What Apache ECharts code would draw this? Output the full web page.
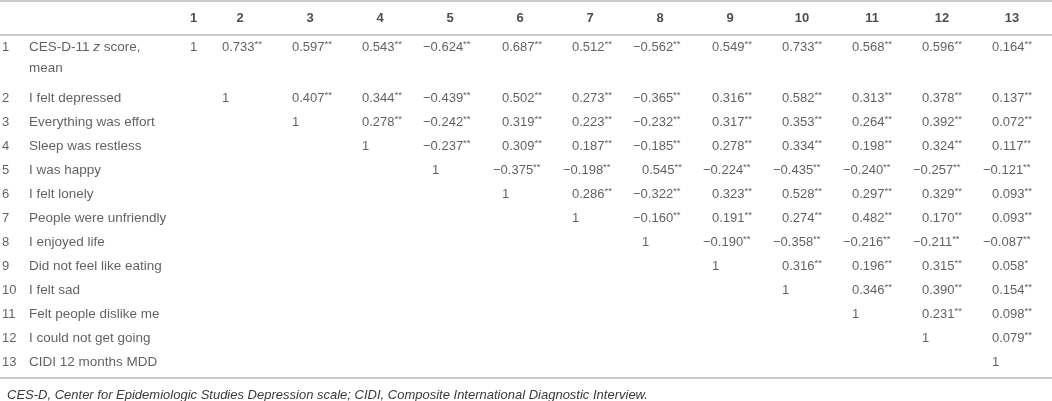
<!DOCTYPE html>
<html>
<head>
<meta charset="utf-8">
<script src="https://cdn.jsdelivr.net/npm/echarts@6/dist/echarts.min.js"></script>
<style>
  html, body { margin: 0; padding: 0; background: #fff; }
  #chart { width: 1052px; height: 401px; }
</style>
</head>
<body>
<div id="chart"></div>
<script>
// column headers
const columns = ['1', '2', '3', '4', '5', '6', '7', '8', '9', '10', '11', '12', '13']

// item names (row labels)
const items = [
  'CES-D-11 z score, mean',
  'I felt depressed',
  'Everything was effort',
  'Sleep was restless',
  'I was happy',
  'I felt lonely',
  'People were unfriendly',
  'I enjoyed life',
  'Did not feel like eating',
  'I felt sad',
  'Felt people dislike me',
  'I could not get going',
  'CIDI 12 months MDD'
]

// upper triangle, each row starts at the column after the diagonal
const r1 = ['0.733**', '0.597**', '0.543**', '-0.624**', '0.687**', '0.512**', '-0.562**', '0.549**', '0.733**', '0.568**', '0.596**', '0.164**']
const r2 = ['0.407**', '0.344**', '-0.439**', '0.502**', '0.273**', '-0.365**', '0.316**', '0.582**', '0.313**', '0.378**', '0.137**']
const r3 = ['0.278**', '-0.242**', '0.319**', '0.223**', '-0.232**', '0.317**', '0.353**', '0.264**', '0.392**', '0.072**']
const r4 = ['-0.237**', '0.309**', '0.187**', '-0.185**', '0.278**', '0.334**', '0.198**', '0.324**', '0.117**']
const r5 = ['-0.375**', '-0.198**', '0.545**', '-0.224**', '-0.435**', '-0.240**', '-0.257**', '-0.121**']
const r6 = ['0.286**', '-0.322**', '0.323**', '0.528**', '0.297**', '0.329**', '0.093**']
const r7 = ['-0.160**', '0.191**', '0.274**', '0.482**', '0.170**', '0.093**']
const r8 = ['-0.190**', '-0.358**', '-0.216**', '-0.211**', '-0.087**']
const r9 = ['0.316**', '0.196**', '0.315**', '0.058*']
const r10 = ['0.346**', '0.390**', '0.154**']
const r11 = ['0.231**', '0.098**']
const r12 = ['0.079**']
const r13 = []
const corrRows = [r1, r2, r3, r4, r5, r6, r7, r8, r9, r10, r11, r12, r13]

const footnote = 'CES-D, Center for Epidemiologic Studies Depression scale; CIDI, Composite International Diagnostic Interview.'

// layout: pixel scale of one column / one row
const W = 1052, H = 401
const COL_W = 70, ROW_H = 24
const X0 = 82, Y0 = 50
const xv = px => (px - X0) / COL_W
const yv = px => (px - Y0) / ROW_H
const colV = c => c === 1 ? xv(190) : c
const rowV = r => r === 1 ? yv(47) : r

const FONT = "'Liberation Sans', Helvetica, Arial, sans-serif"
const TXT = '#3a3a3a'

function cellText(s) {
  const m = s.match(/^(-?)([\d.]+)(\**)$/)
  const num = (m[1] ? '\u2212' : '') + m[2]
  return {
    text: m[3] ? `{v|${num}}{s|${m[3]}}` : `{v|${num}}`,
    neg: !!m[1]
  }
}

// cells
const cellData = []
corrRows.forEach((row, i) => {
  const r = i + 1
  cellData.push({ name: '{v|1}', value: [colV(r), rowV(r)] })
  row.forEach((s, k) => {
    const c = r + 1 + k
    const t = cellText(s)
    cellData.push({
      name: t.text,
      value: [colV(c), rowV(r)],
      label: { offset: [t.neg ? -9 : 0, 0] }
    })
  })
})

// header
const headerData = columns.map((h, i) => ({
  name: h,
  value: [colV(i + 1), yv(18)],
  label: { offset: [i === 0 ? 3.5 : (i >= 9 ? 20 : 18), 0] }
}))

// row numbers and names
const numData = items.map((n, i) => ({ name: String(i + 1), value: [xv(2), rowV(i + 1)] }))
const nameData = items.map((n, i) => {
  if (i === 0) {
    return {
      name: '{n|CES-D-11 }{i|z}{n| score,}\n{n|mean}',
      value: [xv(29), rowV(1)],
      label: { offset: [0, 10.5] }
    }
  }
  return { name: `{n|${n}}`, value: [xv(29), rowV(i + 1)] }
})

const baseLabel = {
  show: true,
  position: 'inside',
  align: 'left',
  verticalAlign: 'middle',
  formatter: p => p.name,
  fontFamily: FONT,
  fontSize: 13,
  color: TXT
}

const chart = echarts.init(document.getElementById('chart'), null, { renderer: 'canvas' })
chart.setOption({
  animation: false,
  backgroundColor: '#fff',
  title: {
    text: footnote,
    left: 2,
    top: 384,
    textStyle: { fontFamily: FONT, fontSize: 13, fontStyle: 'italic', fontWeight: 'normal', color: TXT }
  },
  grid: { left: 0, right: 0, top: 0, bottom: 0 },
  xAxis: { type: 'value', min: xv(0), max: xv(W), show: false },
  yAxis: { type: 'value', min: yv(0), max: yv(H), inverse: true, show: false },
  series: [
    {
      type: 'scatter',
      symbolSize: 0,
      clip: false,
      silent: true,
      data: headerData,
      label: { ...baseLabel, align: 'center', fontWeight: 'bold', color: '#222' },
      markLine: {
        silent: true,
        symbol: 'none',
        label: { show: false },
        lineStyle: { color: '#c9c9c9', width: 2, type: 'solid' },
        data: [{ yAxis: yv(1) }, { yAxis: yv(35) }, { yAxis: yv(378) }]
      }
    },
    {
      type: 'scatter',
      symbolSize: 0,
      clip: false,
      silent: true,
      data: numData,
      label: baseLabel
    },
    {
      type: 'scatter',
      symbolSize: 0,
      clip: false,
      silent: true,
      data: nameData,
      label: {
        ...baseLabel,
        rich: {
          n: { fontFamily: FONT, fontSize: 13.5, color: TXT, lineHeight: 21 },
          i: { fontFamily: FONT, fontSize: 13.5, color: TXT, fontStyle: 'italic', lineHeight: 21 }
        }
      }
    },
    {
      type: 'scatter',
      symbolSize: 0,
      clip: false,
      silent: true,
      data: cellData,
      label: {
        ...baseLabel,
        rich: {
          v: { fontFamily: FONT, fontSize: 13, color: TXT, lineHeight: 16 },
          s: { fontFamily: FONT, fontSize: 9.5, color: TXT, lineHeight: 11, verticalAlign: 'top' }
        }
      }
    }
  ]
})
</script>
</body>
</html>
